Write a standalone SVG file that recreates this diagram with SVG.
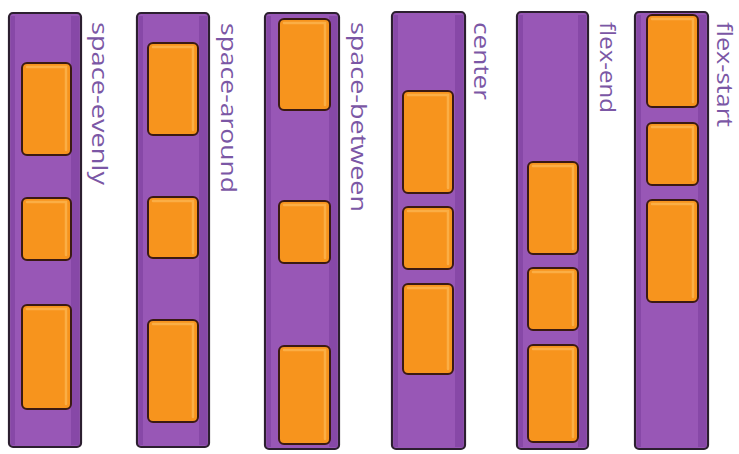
<svg xmlns="http://www.w3.org/2000/svg" width="739" height="454" viewBox="0 0 739 454">
<style>
.bar{fill:#9857b6;stroke:#2c1f30;stroke-width:2.2;stroke-linejoin:round}
.shade{fill:#7a3c9b;opacity:.55}
.box{fill:#f7941d;stroke:#3b1a12;stroke-width:2;stroke-linejoin:round}
.hl{fill:none;stroke:#fbb04a;stroke-width:2.5;stroke-linecap:round;opacity:.9}
.lbl{font-family:"Open Sans","Liberation Sans",sans-serif;font-size:22px;fill:#7b57a5}
</style>
<rect width="739" height="454" fill="#ffffff"/>
<g id="space-evenly">
<rect class="bar" x="9" y="13" width="72" height="434" rx="4"/>
<rect class="shade" x="71" y="16" width="8" height="429"/>
<rect class="shade" x="11" y="16" width="4" height="429"/>
<rect class="box" x="22" y="63" width="49" height="92" rx="5"/>
<path class="hl" d="M27 67 H66 V150"/>
<rect class="box" x="22" y="198" width="49" height="62" rx="5"/>
<path class="hl" d="M27 202 H66 V255"/>
<rect class="box" x="22" y="305" width="49" height="104" rx="5"/>
<path class="hl" d="M27 309 H66 V404"/>
<text class="lbl" transform="translate(92,22) rotate(90)" textLength="163" lengthAdjust="spacingAndGlyphs">space-evenly</text>
</g>
<g id="space-around">
<rect class="bar" x="137" y="13" width="72" height="434" rx="4"/>
<rect class="shade" x="199" y="16" width="8" height="429"/>
<rect class="shade" x="139" y="16" width="4" height="429"/>
<rect class="box" x="148" y="43" width="50" height="92" rx="5"/>
<path class="hl" d="M153 47 H193 V130"/>
<rect class="box" x="148" y="197" width="50" height="61" rx="5"/>
<path class="hl" d="M153 201 H193 V253"/>
<rect class="box" x="148" y="320" width="50" height="102" rx="5"/>
<path class="hl" d="M153 324 H193 V417"/>
<text class="lbl" transform="translate(221,23) rotate(90)" textLength="170" lengthAdjust="spacingAndGlyphs">space-around</text>
</g>
<g id="space-between">
<rect class="bar" x="265" y="13" width="74" height="436" rx="4"/>
<rect class="shade" x="329" y="16" width="8" height="431"/>
<rect class="shade" x="267" y="16" width="4" height="431"/>
<rect class="box" x="279" y="19" width="51" height="91" rx="5"/>
<path class="hl" d="M284 23 H325 V105"/>
<rect class="box" x="279" y="201" width="51" height="62" rx="5"/>
<path class="hl" d="M284 205 H325 V258"/>
<rect class="box" x="279" y="346" width="51" height="98" rx="5"/>
<path class="hl" d="M284 350 H325 V439"/>
<text class="lbl" transform="translate(351,22) rotate(90)" textLength="190" lengthAdjust="spacingAndGlyphs">space-between</text>
</g>
<g id="center">
<rect class="bar" x="392" y="12" width="73" height="437" rx="4"/>
<rect class="shade" x="455" y="15" width="8" height="432"/>
<rect class="shade" x="394" y="15" width="4" height="432"/>
<rect class="box" x="403" y="91" width="50" height="102" rx="5"/>
<path class="hl" d="M408 95 H448 V188"/>
<rect class="box" x="403" y="207" width="50" height="62" rx="5"/>
<path class="hl" d="M408 211 H448 V264"/>
<rect class="box" x="403" y="284" width="50" height="90" rx="5"/>
<path class="hl" d="M408 288 H448 V369"/>
<text class="lbl" transform="translate(474,22) rotate(90)" textLength="78" lengthAdjust="spacingAndGlyphs">center</text>
</g>
<g id="flex-end">
<rect class="bar" x="517" y="12" width="71" height="437" rx="4"/>
<rect class="shade" x="578" y="15" width="8" height="432"/>
<rect class="shade" x="519" y="15" width="4" height="432"/>
<rect class="box" x="528" y="162" width="50" height="92" rx="5"/>
<path class="hl" d="M533 166 H573 V249"/>
<rect class="box" x="528" y="268" width="50" height="62" rx="5"/>
<path class="hl" d="M533 272 H573 V325"/>
<rect class="box" x="528" y="345" width="50" height="97" rx="5"/>
<path class="hl" d="M533 349 H573 V437"/>
<text class="lbl" transform="translate(600,22) rotate(90)" textLength="91" lengthAdjust="spacingAndGlyphs">flex-end</text>
</g>
<g id="flex-start">
<rect class="bar" x="635" y="12" width="73" height="437" rx="4"/>
<rect class="shade" x="698" y="15" width="8" height="432"/>
<rect class="shade" x="637" y="15" width="4" height="432"/>
<rect class="box" x="647" y="15" width="51" height="92" rx="5"/>
<path class="hl" d="M652 19 H693 V102"/>
<rect class="box" x="647" y="123" width="51" height="62" rx="5"/>
<path class="hl" d="M652 127 H693 V180"/>
<rect class="box" x="647" y="200" width="51" height="102" rx="5"/>
<path class="hl" d="M652 204 H693 V297"/>
<text class="lbl" style="font-size:21px" transform="translate(717,22) rotate(90)" textLength="105" lengthAdjust="spacingAndGlyphs">flex-start</text>
</g>
<g id="connectors"/>
</svg>
